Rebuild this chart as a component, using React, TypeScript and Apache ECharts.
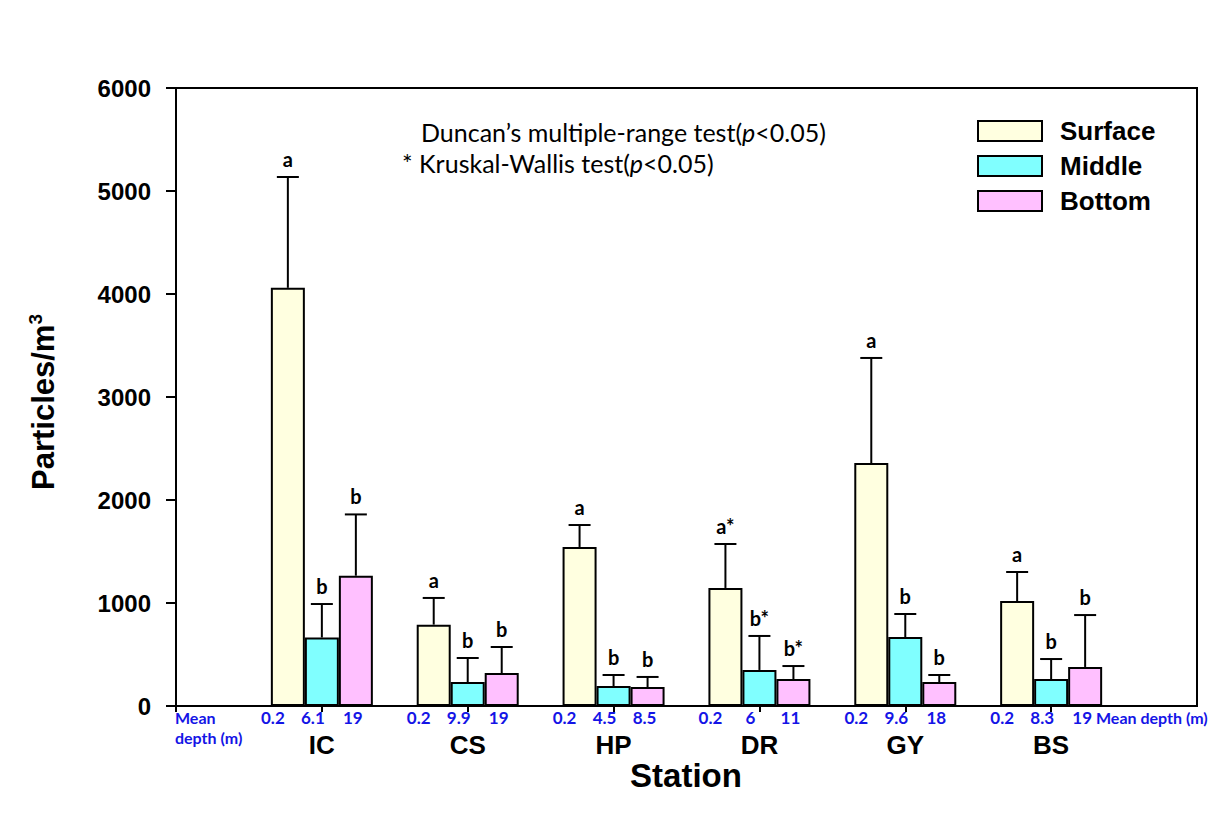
import React, { useEffect, useRef } from "react";
import * as echarts from "echarts";

const stations = ["IC", "CS", "HP", "DR", "GY", "BS"];
const seriesNames = ["Surface", "Middle", "Bottom"];
const surfaceMean = [4060, 790, 1544, 1146, 2359, 1019];
const middleMean = [665, 233, 194, 350, 670, 262];
const bottomMean = [1265, 320, 184, 262, 233, 379];
const surfaceSD = [1076, 259, 213, 427, 1020, 282];
const middleSD = [325, 233, 107, 330, 223, 194];
const bottomSD = [595, 253, 98, 126, 68, 504];
const surfaceLetters = ["a", "a", "a", "a*", "a", "a"];
const middleLetters = ["b", "b", "b", "b*", "b", "b"];
const bottomLetters = ["b", "b", "b", "b*", "b", "b"];
const surfaceDepth = ["0.2", "0.2", "0.2", "0.2", "0.2", "0.2"];
const middleDepth = ["6.1", "9.9", "4.5", "6", "9.6", "8.3"];
const bottomDepth = ["19", "19", "8.5", "11", "18", "19"];
const yTicks = [0, 1000, 2000, 3000, 4000, 5000, 6000];

const colors = ["#FFFFE0", "#80FFFF", "#FFC0FF"];
const BAR_W = 34;

export default function App() {
  const ref = useRef<HTMLDivElement>(null);
  useEffect(() => {
    if (!ref.current) return;
    const chart = echarts.init(ref.current, null, { renderer: "svg" });
    const categories = ["", ...stations, ""];
    const means = [surfaceMean, middleMean, bottomMean];
    const sds = [surfaceSD, middleSD, bottomSD];
    const letters = [surfaceLetters, middleLetters, bottomLetters];

    const barSeries = seriesNames.map((name, s) => ({
      name,
      type: "bar",
      barWidth: BAR_W,
      barGap: "0%",
      data: ["-", ...means[s], "-"],
      itemStyle: { color: colors[s], borderColor: "#000", borderWidth: 2 },
      emphasis: { disabled: true },
      z: 2,
    }));

    const errSeries = seriesNames.map((name, s) => ({
      name: name + "-err",
      type: "custom",
      z: 3,
      data: means[s].map((m, i) => [i + 1, m, m + sds[s][i]]),
      renderItem: (params: any, api: any) => {
        const cat = api.value(0);
        const p0 = api.coord([cat, api.value(1)]);
        const p1 = api.coord([cat, api.value(2)]);
        const x = p0[0] + (s - 1) * BAR_W;
        return {
          type: "group",
          children: [
            { type: "line", shape: { x1: x, y1: p0[1], x2: x, y2: p1[1] }, style: { stroke: "#000", lineWidth: 2 } },
            { type: "line", shape: { x1: x - 11, y1: p1[1], x2: x + 11, y2: p1[1] }, style: { stroke: "#000", lineWidth: 2 } },
            {
              type: "text",
              x,
              y: p1[1] - 18,
              style: {
                text: letters[s][params.dataIndex],
                fontFamily: "Lato",
                fontWeight: "bold",
                fontSize: 20,
                fill: "#000",
                align: "center",
                verticalAlign: "middle",
              },
            },
          ],
        };
      },
    }));

    chart.setOption({
      animation: false,
      backgroundColor: "#fff",
      grid: { left: 176, top: 88, width: 1021, height: 618, show: true, borderColor: "#000", borderWidth: 2, backgroundColor: "transparent" },
      legend: {
        data: seriesNames,
        orient: "vertical",
        left: 977,
        top: 118,
        padding: 0,
        itemWidth: 64,
        itemHeight: 20,
        itemGap: 9,
        icon: "rect",
        selectedMode: false,
        itemStyle: { borderColor: "#000", borderWidth: 2 },
        textStyle: { fontFamily: "Liberation Sans", fontWeight: "bold", fontSize: 26, color: "#000", padding: [0, 0, 0, 13] },
      },
      xAxis: {
        type: "category",
        data: categories,
        boundaryGap: false,
        axisLine: { lineStyle: { color: "#000", width: 2 } },
        axisTick: { show: true, length: 6, interval: (i: number) => i <= 6, lineStyle: { color: "#000", width: 2 } },
        axisLabel: {
          interval: (i: number) => i >= 1 && i <= 6,
          margin: 3,
          formatter: (_v: string, i: number) => {
            if (i < 1 || i > 6) return "";
            const k = i - 1;
            return `{d|${surfaceDepth[k]}}{d|${middleDepth[k]}}{d|${bottomDepth[k]}}{p| }\n{s|${stations[k]}}`;
          },
          rich: {
            d: { width: 40, align: "center", fontFamily: "Lato", fontWeight: "bold", fontSize: 17, color: "#1414e6", lineHeight: 17 },
            p: { width: 18, fontSize: 17, lineHeight: 17 },
            s: { fontFamily: "Liberation Sans", fontWeight: "bold", fontSize: 26, color: "#000", lineHeight: 38, align: "center" },
          },
        },
        splitLine: { show: false },
      },
      yAxis: {
        type: "value",
        min: yTicks[0],
        max: yTicks[yTicks.length - 1],
        interval: 1000,
        axisLine: { show: true, lineStyle: { color: "#000", width: 2 } },
        axisTick: { show: true, length: 10, lineStyle: { color: "#000", width: 2 } },
        axisLabel: {
          margin: 25,
          formatter: (v: number) => String(v),
          fontFamily: "Liberation Sans",
          fontWeight: "bold",
          fontSize: 24,
          color: "#000",
        },
        splitLine: { show: false },
      },
      graphic: [
        {
          type: "text",
          x: 43,
          y: 402,
          rotation: Math.PI / 2,
          style: {
            text: "Particles/m{sup|3}",
            fontFamily: "Liberation Sans",
            fontWeight: "bold",
            fontSize: 31,
            fill: "#000",
            align: "center",
            verticalAlign: "middle",
            rich: {
              sup: { fontFamily: "Liberation Sans", fontWeight: "bold", fontSize: 19, fill: "#000", padding: [0, 0, 15, 0] },
            },
          },
        },
        {
          type: "text",
          x: 686,
          y: 775,
          style: { text: "Station", fontFamily: "Liberation Sans", fontWeight: "bold", fontSize: 33, fill: "#000", align: "center", verticalAlign: "middle" },
        },
        {
          type: "text",
          x: 421,
          y: 132,
          style: {
            text: "Duncan’s multiple-range test({i|p}<0.05)",
            fontFamily: "Lato",
            fontSize: 25,
            fill: "#000",
            verticalAlign: "middle",
            rich: { i: { fontFamily: "Lato", fontSize: 25, fontStyle: "italic", fill: "#000" } },
          },
        },
        {
          type: "text",
          x: 402,
          y: 163,
          style: {
            text: "* Kruskal-Wallis test({i|p}<0.05)",
            fontFamily: "Lato",
            fontSize: 25,
            fill: "#000",
            verticalAlign: "middle",
            rich: { i: { fontFamily: "Lato", fontSize: 25, fontStyle: "italic", fill: "#000" } },
          },
        },
        {
          type: "text",
          x: 175,
          y: 717,
          style: { text: "Mean", fontFamily: "Lato", fontWeight: "bold", fontSize: 16, fill: "#1414e6", align: "left", verticalAlign: "middle" },
        },
        {
          type: "text",
          x: 175,
          y: 737,
          style: { text: "depth (m)", fontFamily: "Lato", fontWeight: "bold", fontSize: 16, fill: "#1414e6", align: "left", verticalAlign: "middle" },
        },
        {
          type: "text",
          x: 1096,
          y: 717,
          style: { text: "Mean depth (m)", fontFamily: "Lato", fontWeight: "bold", fontSize: 16, fill: "#1414e6", align: "left", verticalAlign: "middle" },
        },
      ],
      series: [...barSeries, ...errSeries],
    });
    return () => chart.dispose();
  }, []);
  return <div ref={ref} style={{ position: "fixed", left: 0, top: 0, width: 1219, height: 818 }} />;
}
